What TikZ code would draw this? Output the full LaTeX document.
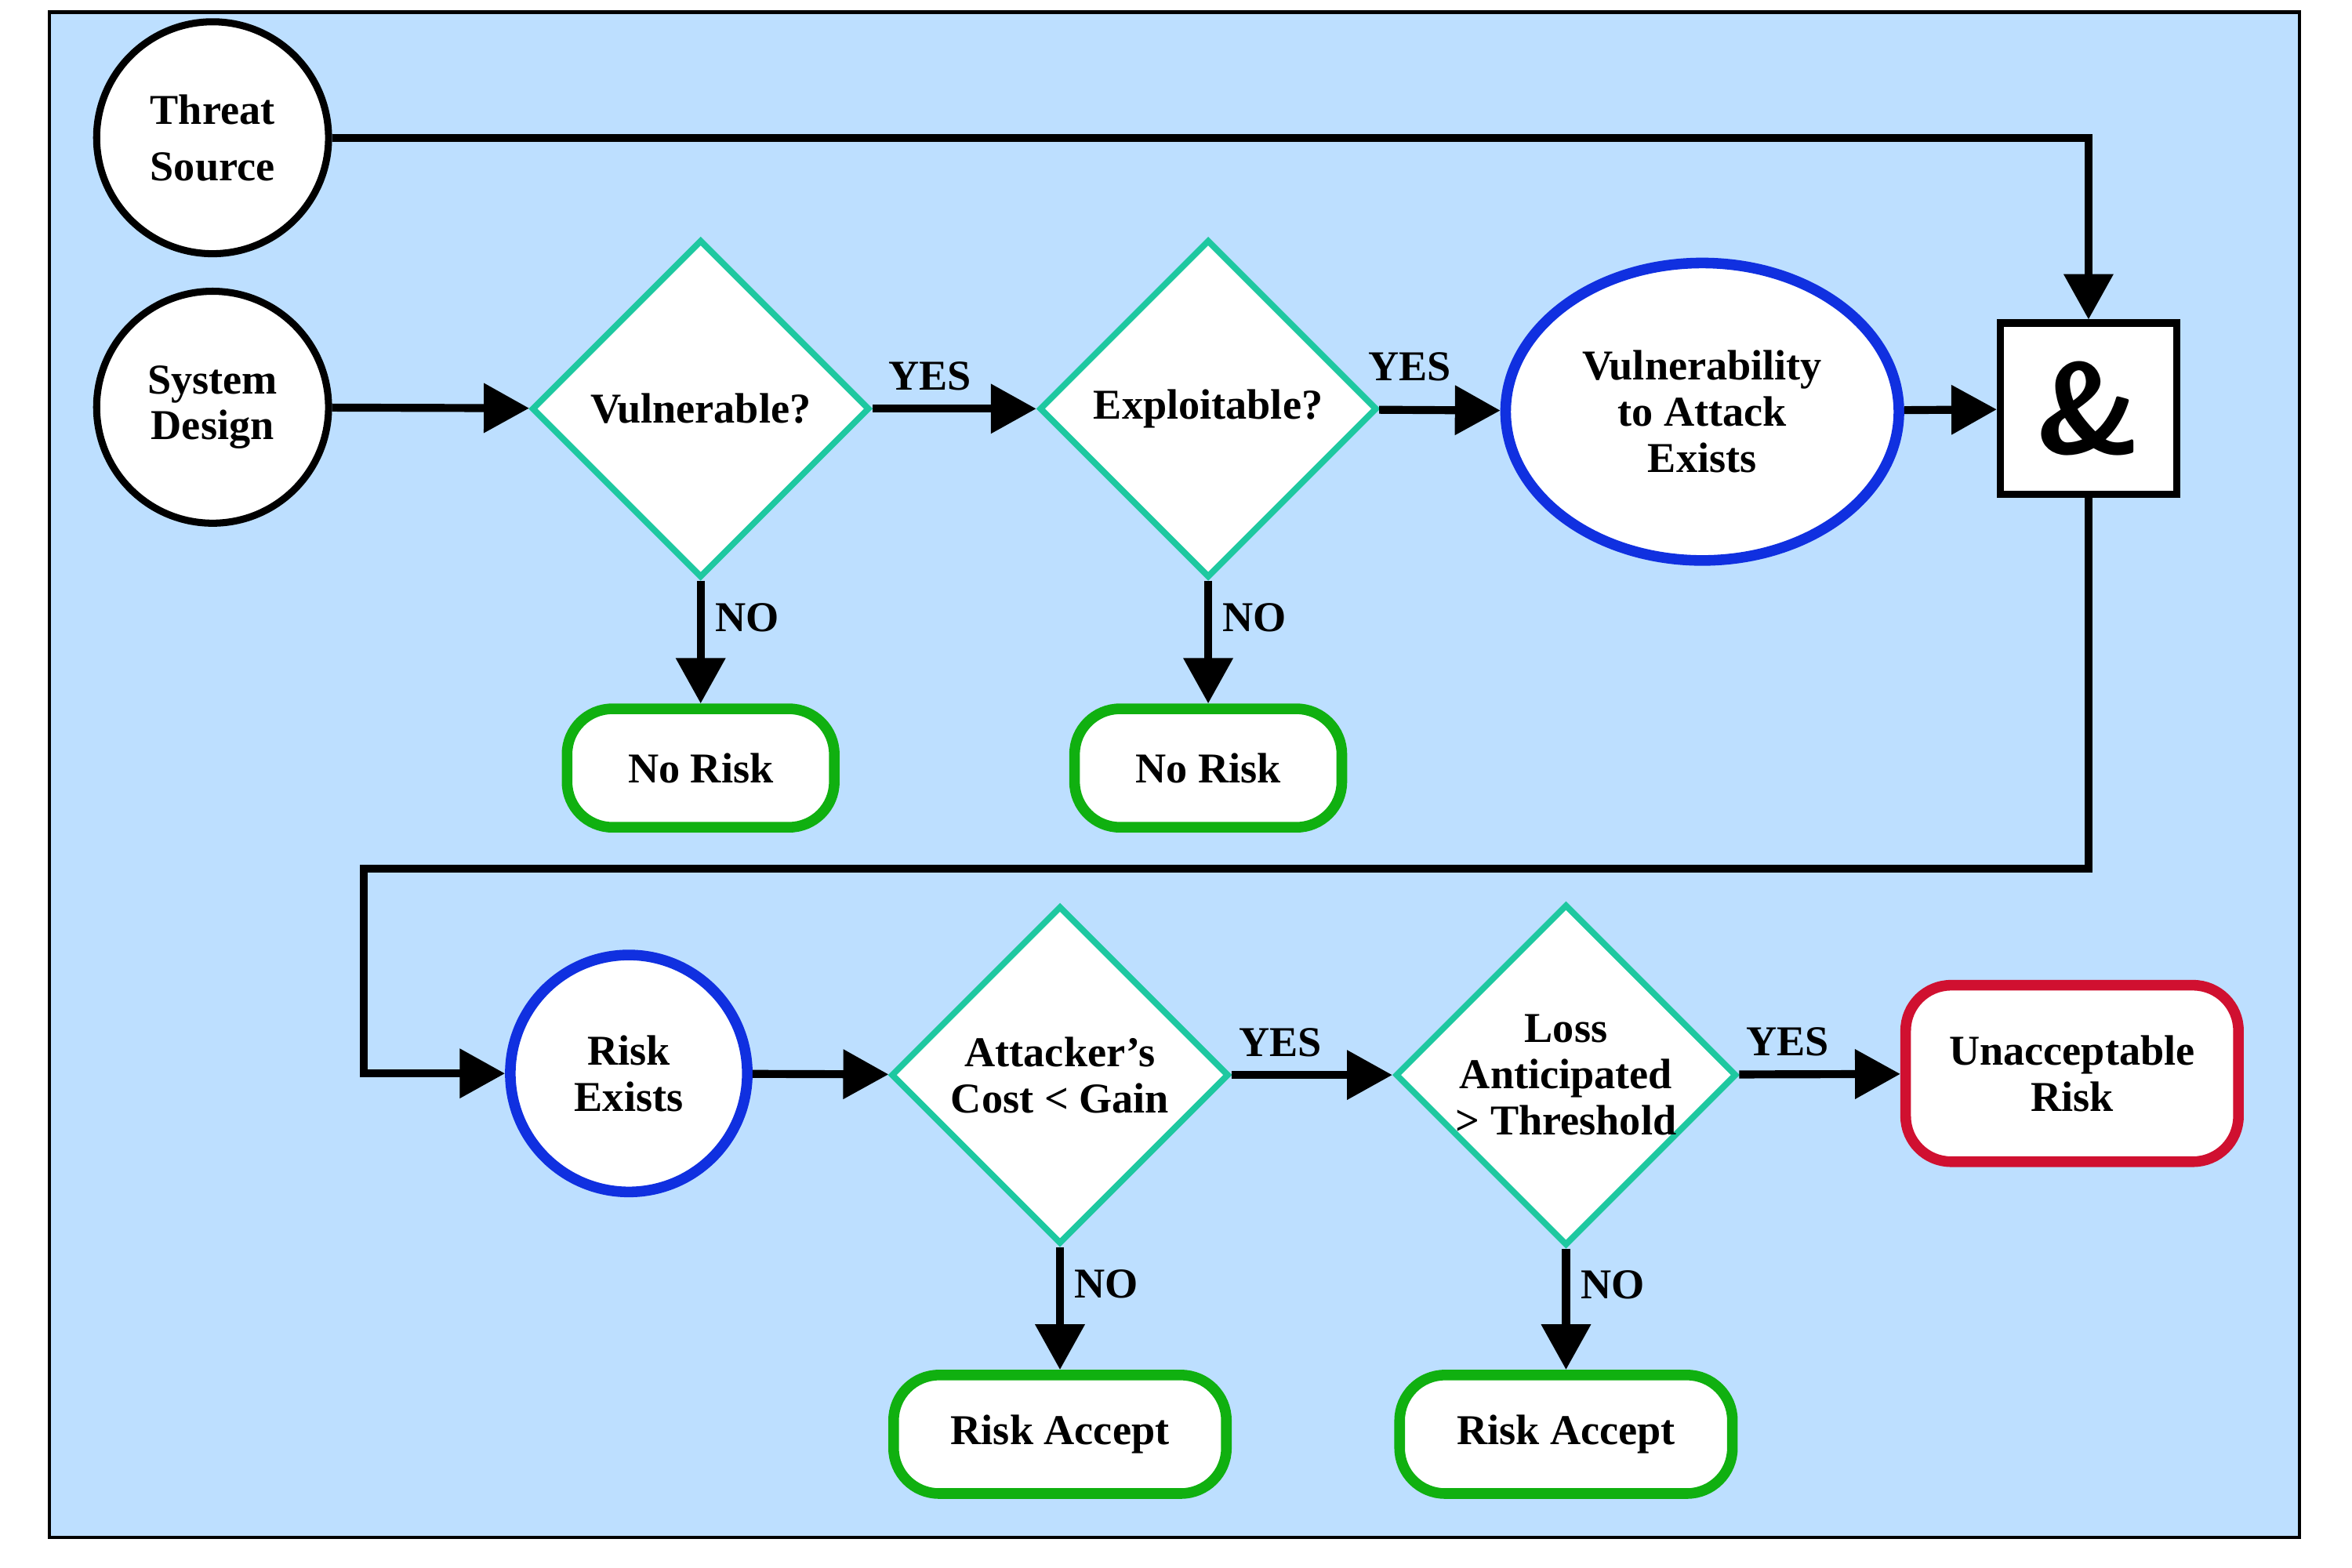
\documentclass[tikz,border=0pt]{standalone}
\usepackage{fontspec}
\setmainfont{Liberation Serif}
\usetikzlibrary{shapes.geometric,arrows.meta}
\definecolor{bgblue}{HTML}{BDDFFF}
\definecolor{teal}{HTML}{1EC8A0}
\definecolor{dblue}{HTML}{1030E0}
\definecolor{grn}{HTML}{10B010}
\definecolor{rd}{HTML}{D01030}
\begin{document}
\begin{tikzpicture}[x=0.0297cm,y=-0.0297cm,
  every node/.style={font=\fontsize{24}{26}\selectfont\bfseries, align=center, inner sep=0pt},
  circ/.style={circle, draw=black, line width=4pt, fill=white, minimum size=4.6cm},
  bcirc/.style={circle, draw=dblue, line width=6pt, fill=white, minimum size=4.7cm},
  dia/.style={diamond, draw=teal, line width=3.5pt, fill=white, minimum width=6.7cm, minimum height=6.7cm, aspect=1},
  term/.style={rounded corners=0.9cm, draw=grn, line width=6pt, fill=white, minimum width=5.3cm, minimum height=2.35cm},
  arr/.style={line width=4.5pt, -{Triangle[length=0.9cm,width=0.95cm]}},
  lab/.style={font=\fontsize{24}{26}\selectfont\bfseries}]
\useasboundingbox (0,0) rectangle (1571,1047);
\draw[fill=bgblue, line width=2pt] (33,8) rectangle (1536,1027);
\node[circ] (ts) at (142,92) {Threat\\[6pt]Source};
\node[circ] (sd) at (142,272) {System\\Design};
\node[dia] (v) at (468,273) {Vulnerable?};
\node[dia] (e) at (807,273) {Exploitable?};
\node[ellipse, draw=dblue, line width=6pt, fill=white, minimum width=7.8cm, minimum height=5.9cm] (va) at (1137,275) {Vulnerability\\to Attack\\Exists};
\node[draw=black, line width=4pt, fill=white, minimum width=3.5cm, minimum height=3.4cm, font=\fontsize{72}{72}\selectfont\bfseries\sffamily] (and) at (1395,273) {\&};
\node[term] (nr1) at (468,513) {No Risk};
\node[term] (nr2) at (807,513) {No Risk};
\node[bcirc] (re) at (420,717) {Risk\\Exists};
\node[dia] (ac) at (708,718) {Attacker's\\Cost < Gain};
\node[dia] (la) at (1046,718) {Loss\\Anticipated\\> Threshold};
\node[term, draw=rd, minimum width=6.6cm, minimum height=3.5cm] (ur) at (1384,717) {Unacceptable\\Risk};
\node[term, minimum width=6.6cm] (ra1) at (708,958) {Risk Accept};
\node[term, minimum width=6.6cm] (ra2) at (1046,958) {Risk Accept};
\coordinate (c1) at (243,580);
\draw[arr] (ts.east) -| (and.north);
\draw[arr] (sd) -- (v);
\draw[arr] (v) -- node[lab, above=8pt, pos=0.35]{YES} (e);
\draw[arr] (e) -- node[lab, above=14pt, pos=0.25]{YES} (va);
\draw[arr] (va) -- (and);
\draw[arr] (v.south) -- node[lab, right=6pt, pos=0.3]{NO} (nr1.north);
\draw[arr] (e.south) -- node[lab, right=6pt, pos=0.3]{NO} (nr2.north);
\draw[arr] (and.south) |- (c1) |- (re.west);
\draw[arr] (re) -- (ac);
\draw[arr] (ac) -- node[lab, above=8pt, pos=0.3]{YES} (la);
\draw[arr] (la) -- node[lab, above=8pt, pos=0.3]{YES} (ur);
\draw[arr] (ac.south) -- node[lab, right=6pt, pos=0.3]{NO} (ra1.north);
\draw[arr] (la.south) -- node[lab, right=6pt, pos=0.3]{NO} (ra2.north);
\end{tikzpicture}
\end{document}
